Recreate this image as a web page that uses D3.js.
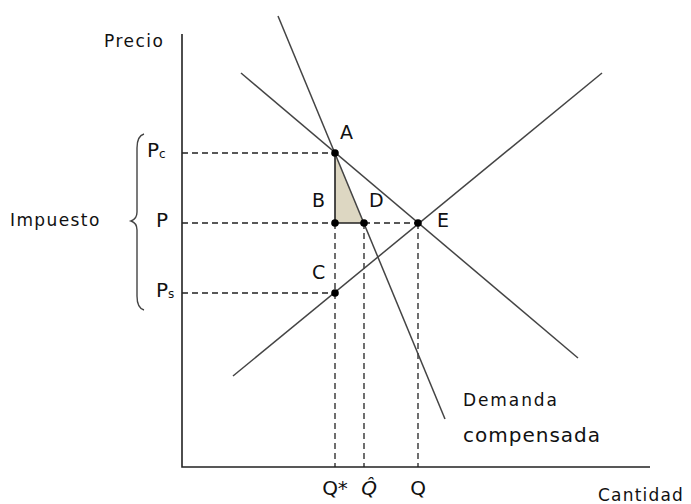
<!DOCTYPE html>
<html>
<head>
<meta charset="utf-8">
<script src="https://cdn.jsdelivr.net/npm/d3@7"></script>
<style>
  body { margin: 0; background: #fff; }
  text { font-family: "DejaVu Sans", sans-serif; fill: #111; }
</style>
</head>
<body>
<div class="box"></div>
<script>
// DATA (quantity / price units)
const qStar = 30.6, qHat = 36.4, qEq = 47.2;
const pC = 62.8, pEq = 48.8, pS = 34.8;

const demanda = [[11.8, 78.8], [79.2, 21.8]];
const compensada = [[19.2, 90.2], [52.6, 9.6]];
const oferta = [[10.2, 18.2], [84, 78.8]];

const puntos = [
  {name: 'A', q: qStar, p: pC},
  {name: 'B', q: qStar, p: pEq},
  {name: 'C', q: qStar, p: pS},
  {name: 'D', q: qHat, p: pEq},
  {name: 'E', q: qEq, p: pEq}
];

// SETUP
const width = 691, height = 504;
const svg = d3.select('.box')
              .append('svg')
              .attr('width', width)
              .attr('height', height);

const x = d3.scaleLinear().domain([0, 100]).range([182, 682]);
const y = d3.scaleLinear().domain([0, 90]).range([467, 17]);

const line = d3.line().x(d => x(d[0])).y(d => y(d[1]));

// triangle ABD
svg.append('path')
   .attr('d', line([[qStar, pC], [qStar, pEq], [qHat, pEq]]) + 'Z')
   .attr('fill', '#ddd7c2')
   .attr('stroke', 'none');

// dashed guides
const dashed = [
  [[0, pC], [qStar, pC]],
  [[0, pEq], [qStar, pEq]],
  [[qHat, pEq], [qEq, pEq]],
  [[0, pS], [qStar, pS]],
  [[qStar, pEq], [qStar, 0]],
  [[qHat, pEq], [qHat, 0]],
  [[qEq, pEq], [qEq, 0]]
];
svg.selectAll('.dash')
   .data(dashed)
   .enter()
   .append('path')
   .attr('d', line)
   .attr('fill', 'none')
   .attr('stroke', '#222')
   .attr('stroke-width', 1.3)
   .attr('stroke-dasharray', '6,4');

// solid triangle edges
svg.append('path')
   .attr('d', line([[qStar, pC], [qStar, pEq], [qHat, pEq]]))
   .attr('fill', 'none')
   .attr('stroke', '#222')
   .attr('stroke-width', 1.6);

// curves
svg.selectAll('.curve')
   .data([demanda, compensada, oferta])
   .enter()
   .append('path')
   .attr('d', line)
   .attr('fill', 'none')
   .attr('stroke', '#444')
   .attr('stroke-width', 1.5);

// axes
svg.append('path')
   .attr('d', line([[0, 86.6], [0, 0], [93.6, 0]]))
   .attr('fill', 'none')
   .attr('stroke', '#222')
   .attr('stroke-width', 1.6);

// points
svg.selectAll('circle')
   .data(puntos)
   .enter()
   .append('circle')
   .attr('cx', d => x(d.q))
   .attr('cy', d => y(d.p))
   .attr('r', 3.8)
   .attr('fill', '#000');

// point labels (offset from the point: dx, baseline dy)
const offsets = {A: [5, -14], B: [-23, -16], C: [-23, -14], D: [5, -16], E: [19, 4]};
svg.selectAll('.plabel')
   .data(puntos)
   .enter()
   .append('text')
   .attr('x', d => x(d.q) + offsets[d.name][0])
   .attr('y', d => y(d.p) + offsets[d.name][1])
   .style('font-size', '19px')
   .text(d => d.name);

// price labels
const pLab = svg.append('g').style('font-size', '20px');
pLab.append('text').attr('x', 147).attr('y', y(pC) + 4).text('P')
    .append('tspan').attr('dy', 1).style('font-size', '12px').text('c');
pLab.append('text').attr('x', 156).attr('y', y(pEq) + 4).text('P');
pLab.append('text').attr('x', 156).attr('y', y(pS) + 4).text('P')
    .append('tspan').attr('dy', 1).style('font-size', '12px').text('s');

// brace
svg.append('path')
   .attr('d', 'M144,134 Q137,136 137,148 L137,212 Q137,219 131,221 Q137,223 137,230 L137,296 Q137,308 144,310')
   .attr('fill', 'none')
   .attr('stroke', '#444')
   .attr('stroke-width', 1.4);

svg.append('text').attr('x', 10).attr('y', 226)
   .style('font-size', '17px').style('letter-spacing', '1.4px').text('Impuesto');
svg.append('text').attr('x', 104).attr('y', 47)
   .style('font-size', '17px').style('letter-spacing', '1.5px').text('Precio');
svg.append('text').attr('x', 598).attr('y', 501)
   .style('font-size', '17px').style('letter-spacing', '1.2px').text('Cantidad');
svg.append('text').attr('x', 463).attr('y', 406)
   .style('font-size', '17px').style('letter-spacing', '1.9px').text('Demanda');
svg.append('text').attr('x', 463).attr('y', 442)
   .style('font-size', '20px').style('letter-spacing', '1px').text('compensada');

// quantity labels
const qLab = svg.append('g').style('font-size', '20px').attr('text-anchor', 'middle');
qLab.append('text').attr('x', x(qStar)).attr('y', 495).text('Q*');
qLab.append('text').attr('x', x(qHat) + 5).attr('y', 495)
    .style('font-style', 'italic').text('Q\u0302');
qLab.append('text').attr('x', x(qEq)).attr('y', 495).text('Q');
</script>
</body>
</html>
